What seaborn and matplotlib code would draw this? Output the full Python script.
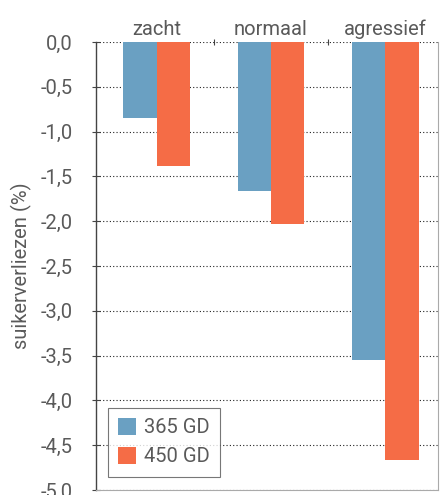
import matplotlib
matplotlib.use("Agg")
import matplotlib.pyplot as plt
from matplotlib.ticker import FixedLocator
import seaborn as sns
import pandas as pd

# Sugar losses per lifting regime and storage duration
categories = ["zacht", "normaal", "agressief"]
series = ["365 GD", "450 GD"]
loss_365 = [-0.85, -1.66, -3.55]
loss_450 = [-1.38, -2.03, -4.67]
yticks = [0.0, -0.5, -1.0, -1.5, -2.0, -2.5, -3.0, -3.5, -4.0, -4.5, -5.0]

df = pd.DataFrame({
    "regime": categories * 2,
    "serie": [series[0]] * 3 + [series[1]] * 3,
    "verlies": loss_365 + loss_450,
})

sns.set_style("white")
plt.rcParams["font.family"] = ["Roboto", "DejaVu Sans"]
text_col = "#5a5a5a"
fs = 14.5

fig = plt.figure(figsize=(4.41, 4.95), dpi=100)
ax = fig.add_axes([96 / 441, 5 / 495, 342 / 441, 448 / 495])

sns.barplot(data=df, x="regime", y="verlies", hue="serie", order=categories,
            hue_order=series, palette=["#6aa0c2", "#f56c46"], width=0.58,
            gap=0, saturation=1, errorbar=None, linewidth=0, ax=ax, zorder=3)

ax.set_ylim(-5.0, 0.0)
ax.set_xlim(-0.53, 2.46)
ax.set_yticks(yticks)
ax.set_yticklabels([f"{v:.1f}".replace(".", ",") for v in yticks],
                   fontsize=fs, color=text_col)

# category names along the top edge
ax.xaxis.tick_top()
ax.tick_params(axis="x", which="major", length=0, pad=2, labelsize=fs,
               labelcolor=text_col)
ax.xaxis.set_minor_locator(FixedLocator([0.5, 1.5]))
ax.tick_params(axis="x", which="minor", top=True, bottom=False, length=5,
               width=0.8, color="#444444", direction="inout")
ax.tick_params(axis="y", left=True, length=6, width=0.8, color="#444444",
               pad=14, direction="inout")
ax.set_xlabel("")
ax.set_ylabel("suikerverliezen (%)", fontsize=fs, color=text_col, labelpad=6)

ax.grid(axis="y", linestyle=(0, (1, 2)), color="#222222", linewidth=0.8,
        zorder=1)
ax.grid(axis="x", visible=False)

ax.spines["top"].set_visible(False)
ax.spines["left"].set_color("#444444")
ax.spines["left"].set_linewidth(1.0)
ax.spines["right"].set_color("#aaaaaa")
ax.spines["right"].set_linewidth(0.8)
ax.spines["bottom"].set_color("#aaaaaa")
ax.spines["bottom"].set_linewidth(0.8)

leg = ax.legend(loc="lower left", bbox_to_anchor=(0.035, 0.03), fontsize=fs,
                frameon=True, fancybox=False, edgecolor="#555555",
                handlelength=0.9, handleheight=0.9, handletextpad=0.4,
                borderpad=0.5, labelspacing=0.5, borderaxespad=0)
leg.get_frame().set_linewidth(0.8)
for t in leg.get_texts():
    t.set_color(text_col)

fig.savefig("out.png", dpi=100)
